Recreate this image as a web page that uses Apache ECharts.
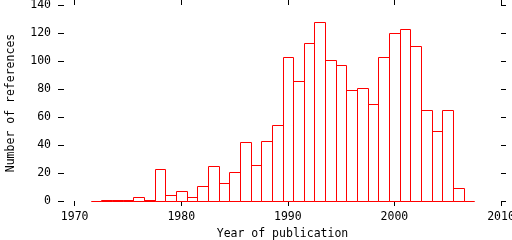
<!DOCTYPE html>
<html><head><meta charset="utf-8">
<script src="https://cdn.jsdelivr.net/npm/echarts@6/dist/echarts.min.js"></script>
<style>html,body{margin:0;padding:0;background:#fff}#c{width:512px;height:240px}</style>
</head><body><div id="c"></div>
<script>
const years = [1972,1973,1974,1975,1976,1977,1978,1979,1980,1981,1982,1983,1984,1985,1986,1987,1988,1989,1990,1991,1992,1993,1994,1995,1996,1997,1998,1999,2000,2001,2002,2003,2004,2005,2006,2007];
const counts = [0,1,1,1,3,1,23,4,7,3,11,25,13,21,42,26,43,54,103,86,113,128,101,97,79,81,69,103,120,123,111,65,50,65,9,0];
const xTickValues = [1970,1980,1990,2000,2010];
const xTitle = 'Year of publication';
const yTitle = 'Number of references';

const font = 'DejaVu Sans Mono';
const fs = 11.5;
const data = years.map((y,i)=>[y, counts[i]]);

const chart = echarts.init(document.getElementById('c'), null, {renderer:'canvas'});
const tickStyle = {show:true, inside:false, length:5, lineStyle:{color:'#000', width:1}};
chart.setOption({
  animation:false,
  backgroundColor:'#fff',
  grid:{left:64, right:11, top:5, bottom:39, containLabel:false, outerBoundsMode:'none'},
  xAxis:[{
    type:'value', min:1969, max:2010, position:'bottom',
    axisLine:{show:false, onZero:false}, splitLine:{show:false},
    axisTick:Object.assign({customValues:xTickValues}, tickStyle),
    axisLabel:{customValues:xTickValues, margin:10, color:'#000', fontFamily:font, fontSize:fs, formatter:function(v){return String(v);}, showMinLabel:true, showMaxLabel:true, hideOverlap:false},
    name:xTitle, nameLocation:'middle', nameGap:26,
    nameTextStyle:{color:'#000', fontFamily:font, fontSize:fs}
  },{
    type:'value', min:1969, max:2010, position:'top',
    axisLine:{show:false, onZero:false}, splitLine:{show:false},
    axisTick:Object.assign({customValues:xTickValues}, tickStyle),
    axisLabel:{show:false}
  }],
  yAxis:[{
    type:'value', min:0, max:140, interval:20, position:'left',
    axisLine:{show:false, onZero:false}, splitLine:{show:false},
    axisTick:Object.assign({}, tickStyle, {length:6}),
    axisLabel:{margin:13, color:'#000', fontFamily:font, fontSize:fs},
    name:yTitle, nameLocation:'middle', nameRotate:90, nameGap:47,
    nameTextStyle:{color:'#000', fontFamily:font, fontSize:fs}
  },{
    type:'value', min:0, max:140, interval:20, position:'right',
    axisLine:{show:false, onZero:false}, splitLine:{show:false},
    axisTick:tickStyle, axisLabel:{show:false}
  }],
  series:[{
    type:'custom',
    xAxisIndex:0, yAxisIndex:0,
    data:data,
    renderItem:function(params, api){
      const x = api.value(0), y = api.value(1);
      const p0 = api.coord([x-0.5, y]);
      const p1 = api.coord([x+0.5, 0]);
      const x0 = Math.round(p0[0])+0.5, x1 = Math.round(p1[0])+0.5;
      const y0 = Math.round(p0[1])+0.5, y1 = Math.round(p1[1])+0.5;
      return {type:'rect', shape:{x:x0, y:y0, width:x1-x0, height:y1-y0},
        style:{fill:'none', stroke:'#ff0000', lineWidth:1}};
    }
  }]
});
</script></body></html>
